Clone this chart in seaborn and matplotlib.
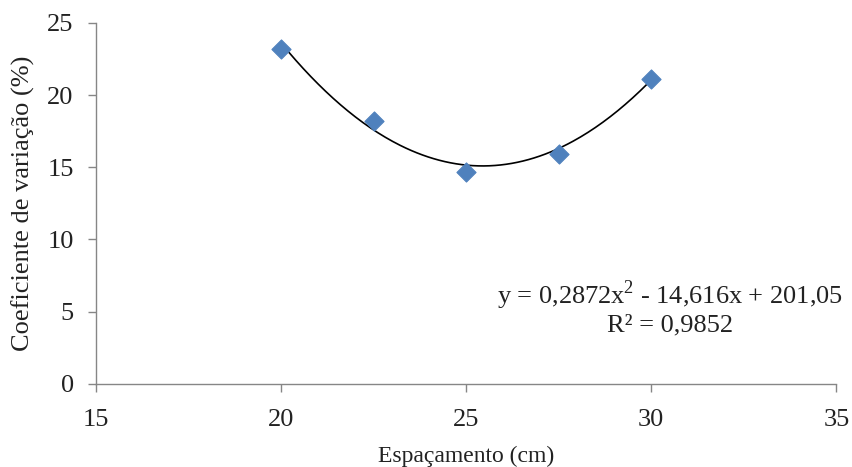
import numpy as np
import pandas as pd
import matplotlib
matplotlib.use("Agg")
import matplotlib.pyplot as plt
import seaborn as sns

# Data
espacamento = [20, 22.5, 25, 27.5, 30]
coef_variacao = [23.2, 18.2, 14.7, 15.9, 21.1]

# Quadratic trendline printed on the chart
coef_a, coef_b, coef_c = 0.2872, -14.616, 201.05
eq_text = "y = 0,2872x$^2$ - 14,616x + 201,05"
r2_text = "R² = 0,9852"

BLUE = "#4F81BD"
AXIS_GRAY = "#868686"
TEXT = "#222222"

sns.set_style("white")
plt.rcParams["font.family"] = ["Liberation Serif", "DejaVu Serif"]
plt.rcParams["mathtext.fontset"] = "custom"
plt.rcParams["mathtext.rm"] = "Liberation Serif"

df = pd.DataFrame({"Espaçamento": espacamento, "CV": coef_variacao})

fig = plt.figure(figsize=(8.53, 4.67), dpi=100)
ax = fig.add_axes([0.1125, 0.178, 0.868, 0.773])

# trendline over the data range
x_fit = np.linspace(min(espacamento), max(espacamento), 200)
y_fit = coef_a * x_fit ** 2 + coef_b * x_fit + coef_c
sns.lineplot(x=x_fit, y=y_fit, ax=ax, color="black", linewidth=1.2, zorder=2)

sns.scatterplot(data=df, x="Espaçamento", y="CV", ax=ax, marker="D",
                s=95, color=BLUE, edgecolor=BLUE, zorder=3)

ax.set_xlim(15, 35)
ax.set_ylim(0, 25)
ax.set_xticks([15, 20, 25, 30, 35])
ax.set_yticks([0, 5, 10, 15, 20, 25])

for side in ["top", "right"]:
    ax.spines[side].set_visible(False)
for side in ["left", "bottom"]:
    ax.spines[side].set_color(AXIS_GRAY)
    ax.spines[side].set_linewidth(1.0)

ax.tick_params(axis="both", direction="out", length=6, width=1.0,
               bottom=True, left=True,
               color=AXIS_GRAY, labelsize=19, labelcolor=TEXT)
ax.tick_params(axis="x", pad=12)
ax.tick_params(axis="y", pad=10)

ax.set_xlabel("Espaçamento (cm)", fontsize=17, color=TEXT, labelpad=11)
ax.set_ylabel("Coeficiente de variação (%)", fontsize=19, color=TEXT, labelpad=9)

ax.text(30.5, 5.3, eq_text + "\n" + r2_text, fontsize=19, color=TEXT,
        ha="center", va="center", linespacing=1.15)

fig.savefig("out.png", dpi=100)
